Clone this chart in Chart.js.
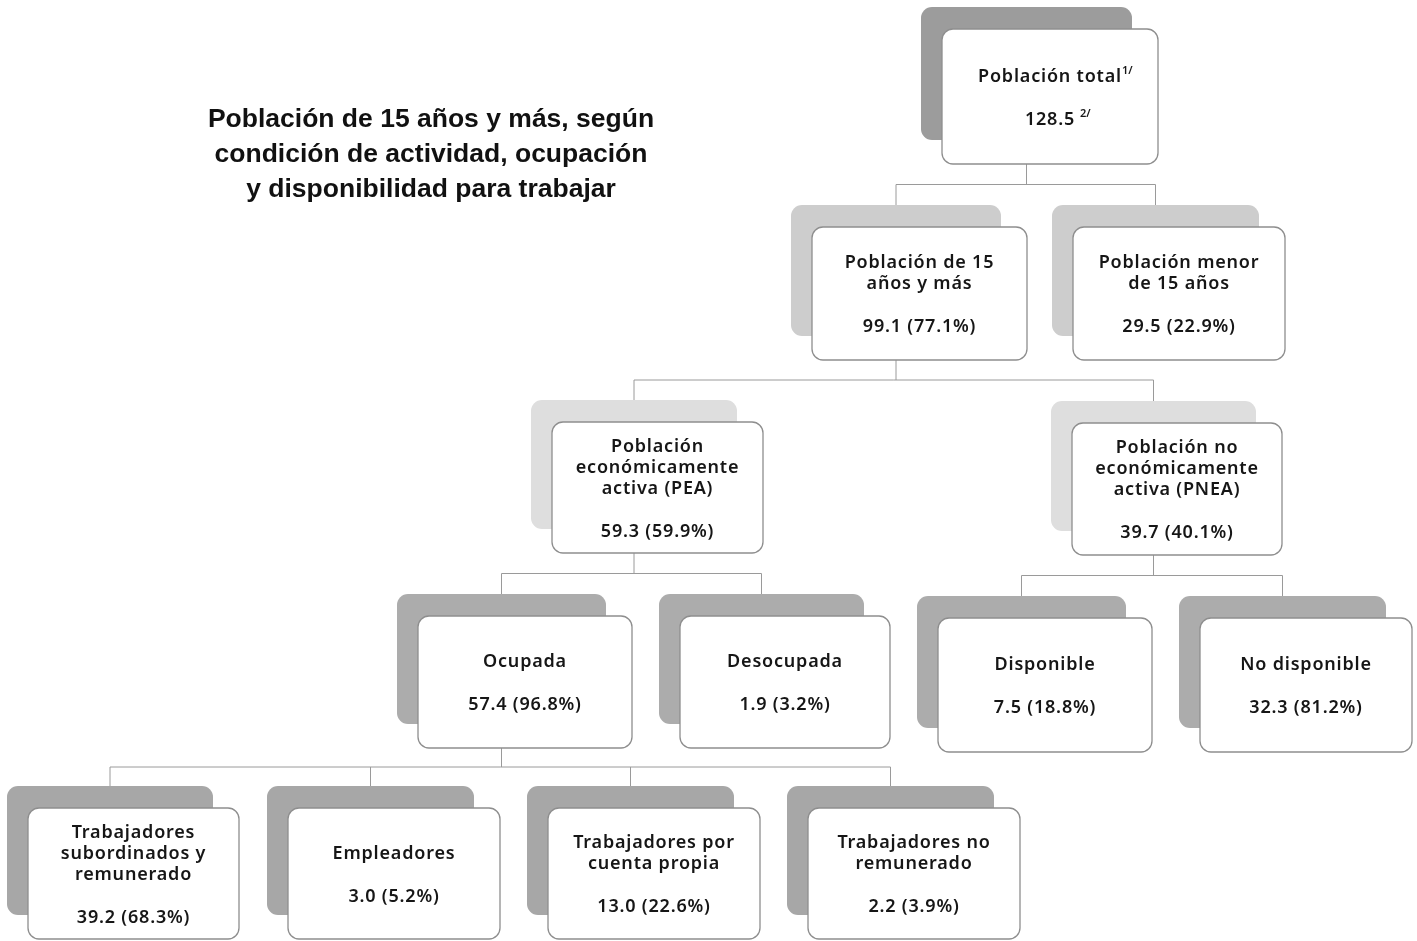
<!DOCTYPE html>
<html lang="es">
<head>
<meta charset="utf-8">
<title>Población de 15 años y más</title>
<script src="https://cdn.jsdelivr.net/npm/chart.js@4.4.0/dist/chart.umd.min.js"></script>
<style>
  html, body { margin: 0; padding: 0; background: #fff; }
  #wrap { width: 1417px; height: 941px; position: relative; }
</style>
</head>
<body>
<div id="wrap"><canvas id="arbol"></canvas></div>
<script>
// ---------------------------------------------------------------
// ---------------- datos (millones de personas) -----------------
// ---------------------------------------------------------------

const etiquetas = [
  ['Población total'],
  ['Población de 15', 'años y más'],
  ['Población menor', 'de 15 años'],
  ['Población', 'económicamente', 'activa (PEA)'],
  ['Población no', 'económicamente', 'activa (PNEA)'],
  ['Ocupada'],
  ['Desocupada'],
  ['Disponible'],
  ['No disponible'],
  ['Trabajadores', 'subordinados y', 'remunerado'],
  ['Empleadores'],
  ['Trabajadores por', 'cuenta propia'],
  ['Trabajadores no', 'remunerado']
];
const valores = [128.5, 99.1, 29.5, 59.3, 39.7, 57.4, 1.9, 7.5, 32.3, 39.2, 3.0, 13.0, 2.2];
const porcentajes = [null, 77.1, 22.9, 59.9, 40.1, 96.8, 3.2, 18.8, 81.2, 68.3, 5.2, 22.6, 3.9];
const padres = [-1, 0, 0, 1, 1, 3, 3, 4, 4, 5, 5, 5, 5];
const notas = ['1/', '2/'];   // llamadas de la caja raíz

const titulo = [
  'Población de 15 años y más, según',
  'condición de actividad, ocupación',
  'y disponibilidad para trabajar'
];

// ---------------------------------------------------------------
// ---------------- acomodo de las cajas -------------------------
// ---------------------------------------------------------------

// caja frontal: x, y (esquina sup. izq.), ancho, alto
const cajas = [
  [942, 29, 216, 135],
  [812, 227, 215, 133],
  [1073, 227, 212, 133],
  [552, 422, 211, 131],
  [1072, 423, 210, 132],
  [418, 616, 214, 132],
  [680, 616, 210, 132],
  [938, 618, 214, 134],
  [1200, 618, 212, 134],
  [28, 808, 211, 131],
  [288, 808, 212, 131],
  [548, 808, 212, 131],
  [808, 808, 212, 131]
];
// gris de la caja de atrás según el nivel
const grisSombra = ['#9c9c9c', '#cdcdcd', '#cdcdcd', '#dedede', '#dedede',
  '#acacac', '#acacac', '#acacac', '#acacac', '#a7a7a7', '#a7a7a7', '#a7a7a7', '#a7a7a7'];

const SOMBRA_DX = -21, SOMBRA_DY = -22;
const FUENTE = '"Noto Sans", sans-serif';

function sombra(i) {
  const c = cajas[i];
  return [c[0] + SOMBRA_DX, c[1] + SOMBRA_DY, c[2] - 5, c[3] - 2];
}

// plugin que dibuja el árbol usando las escalas de la gráfica
const arbolPlugin = {
  id: 'arbol',
  afterDraw(chart) {
    const ctx = chart.ctx;
    const sx = chart.scales.x, sy = chart.scales.y;
    const px = v => sx.getPixelForValue(v);
    const py = v => sy.getPixelForValue(v);

    ctx.save();

    // título
    ctx.fillStyle = '#111';
    ctx.font = 'bold 26.5px "Liberation Sans", Arial, sans-serif';
    ctx.textAlign = 'center';
    ctx.textBaseline = 'middle';
    titulo.forEach((t, k) => ctx.fillText(t, px(431), py(120 + k * 35)));

    // conectores
    ctx.strokeStyle = '#9a9a9a';
    ctx.lineWidth = 1;
    cajas.forEach((c, i) => {
      const hijos = padres.map((p, j) => p === i ? j : -1).filter(j => j >= 0);
      if (!hijos.length) return;
      const s = sombra(i);
      const xPadre = s[0] + s[2] / 2;
      const yAbajo = c[1] + c[3];
      const tops = hijos.map(j => sombra(j)[1]);
      const yBus = (yAbajo + Math.min(...tops)) / 2;
      const xs = hijos.map(j => { const h = sombra(j); return h[0] + h[2] / 2; });
      ctx.beginPath();
      ctx.moveTo(px(xPadre), py(yAbajo));
      ctx.lineTo(px(xPadre), py(yBus));
      ctx.moveTo(px(Math.min(...xs)), py(yBus));
      ctx.lineTo(px(Math.max(...xs)), py(yBus));
      hijos.forEach((j, k) => {
        ctx.moveTo(px(xs[k]), py(yBus));
        ctx.lineTo(px(xs[k]), py(tops[k]));
      });
      ctx.stroke();
    });

    // cajas
    cajas.forEach((c, i) => {
      const s = sombra(i);
      ctx.fillStyle = grisSombra[i];
      ctx.beginPath();
      ctx.roundRect(px(s[0]), py(s[1]), px(s[0] + s[2]) - px(s[0]), py(s[1] + s[3]) - py(s[1]), 11);
      ctx.fill();

      ctx.fillStyle = '#fff';
      ctx.strokeStyle = '#8e8e8e';
      ctx.lineWidth = 1.3;
      ctx.beginPath();
      ctx.roundRect(px(c[0]), py(c[1]), px(c[0] + c[2]) - px(c[0]), py(c[1] + c[3]) - py(c[1]), 11);
      ctx.fill();
      ctx.stroke();

      // textos
      const lineas = etiquetas[i];
      const alto = (lineas.length - 1) * 21 + 43;
      const cx = c[0] + c[2] / 2;
      const y0 = c[1] + c[3] / 2 + 1.5 - alto / 2;
      ctx.fillStyle = '#161616';
      ctx.font = '600 18px ' + FUENTE;
      ctx.letterSpacing = '0.8px';
      ctx.textAlign = 'center';
      lineas.forEach((l, k) => ctx.fillText(l, px(cx), py(y0 + k * 21)));

      const yVal = y0 + (lineas.length - 1) * 21 + 43;
      let txtVal = valores[i].toFixed(1);
      if (porcentajes[i] !== null) txtVal += ' (' + porcentajes[i].toFixed(1) + '%)';
      ctx.fillText(txtVal, px(cx), py(yVal));

      // llamadas en la raíz
      if (padres[i] === -1) {
        const wT = ctx.measureText(lineas[0]).width;
        const wV = ctx.measureText(txtVal).width;
        ctx.font = '600 11px ' + FUENTE;
        ctx.letterSpacing = '0px';
        ctx.textAlign = 'left';
        ctx.fillText(notas[0], px(cx) + wT / 2, py(y0 - 6));
        ctx.fillText(notas[1], px(cx) + wV / 2 + 5, py(yVal - 6));
      }
      ctx.letterSpacing = '0px';
    });

    ctx.restore();
  }
};

const ctx = document.getElementById('arbol');
new Chart(ctx, {
  type: 'scatter',
  data: {
    datasets: [{
      data: cajas.map((c, i) => ({ x: c[0] + c[2] / 2, y: c[1] + c[3] / 2, v: valores[i] })),
      pointRadius: 0,
      pointHoverRadius: 0
    }]
  },
  options: {
    responsive: true,
    maintainAspectRatio: false,
    animation: false,
    layout: { padding: 0 },
    scales: {
      x: { type: 'linear', min: 0, max: 1417, display: false },
      y: { type: 'linear', min: 0, max: 941, reverse: true, display: false }
    },
    plugins: {
      legend: { display: false },
      tooltip: { enabled: false }
    }
  },
  plugins: [arbolPlugin]
});
</script>
</body>
</html>
